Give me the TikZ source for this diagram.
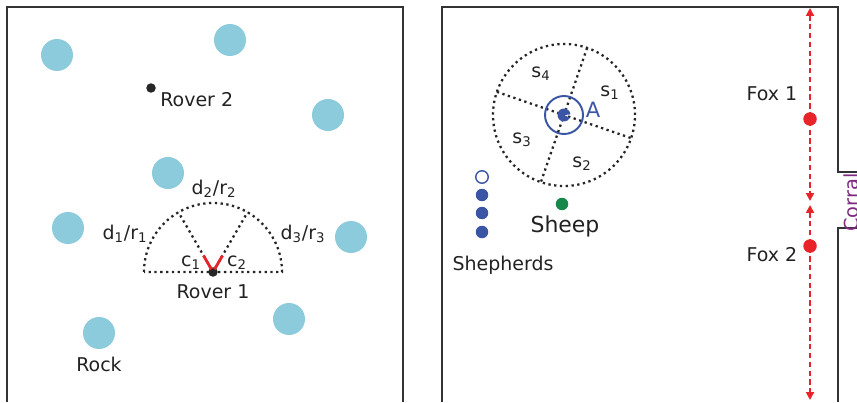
\documentclass[tikz,border=0pt]{standalone}
\usepackage{fontspec}
\setmainfont{DejaVu Sans}
\usepackage{xcolor}
\usetikzlibrary{positioning,calc,arrows.meta}
\definecolor{rockblue}{HTML}{8CCBDC}
\definecolor{foxred}{HTML}{E8232A}
\definecolor{dogblue}{HTML}{3A55A4}
\definecolor{sheepgreen}{HTML}{17884A}
\definecolor{corralpurple}{HTML}{7D2A7F}
\definecolor{inkgray}{HTML}{222222}

\begin{document}
\begin{tikzpicture}[x=0.02cm, y=0.02cm,
    lbl/.style={font=\fontsize{10.8}{13}\selectfont, text=inkgray, inner sep=0pt},
    rock/.style={circle, fill=rockblue, minimum size=0.64cm, inner sep=0pt},
    rover/.style={circle, fill=black!85, minimum size=0.19cm, inner sep=0pt},
    shepherd/.style={circle, fill=dogblue, minimum size=0.25cm, inner sep=0pt},
    fox/.style={circle, fill=foxred, minimum size=0.27cm, inner sep=0pt},
    sensor/.style={dotted, line width=1.3pt, black!85},
    foxpath/.style={densely dashed, line width=1.1pt, foxred, {Triangle[length=4.5pt,width=4.5pt]}-{Triangle[length=4.5pt,width=4.5pt]}},
    wall/.style={line width=0.9pt, black!80}]
    \useasboundingbox (0,0) rectangle (857,-402);
    \draw[wall] (7,-402) |- (403,-7) -- (403,-402);
    \draw[wall] (442,-402) |- (838,-7) -- (838,-172) -- (857,-172);
    \draw[wall] (857,-228) -- (838,-228) -- (838,-402);

    \node[rock] (rock1) at (57,-55) {};
    \node[rock] (rock2) at (230,-40) {};
    \node[rock] (rock3) at (328,-115) {};
    \node[rock] (rock4) at (168,-173) {};
    \node[rock] (rock5) at (68,-228) {};
    \node[rock] (rock6) at (351,-237) {};
    \node[rock] (rock7) at (99,-333) {};
    \node[rock] (rock8) at (289,-319) {};
    \node[lbl, anchor=base] (rocklbl) at (99,-371) {Rock};

    \node[rover] (rover2) at (151,-88) {};
    \node[lbl, anchor=base west] (rover2lbl) at (160,-106) {Rover 2};

    \node[rover] (rover1) at (213,-272) {};
    \coordinate (ray1) at ($(rover1)+(120:69)$);
    \coordinate (ray2) at ($(rover1)+(60:69)$);
    \draw[sensor] ($(rover1)+(-69,0)$) arc (180:0:69) -- cycle;
    \draw[sensor] (rover1) -- (ray1);
    \draw[sensor] (rover1) -- (ray2);
    \draw[foxred, line width=1.6pt] ($(rover1)+(120:3)$) -- ($(rover1)+(120:19)$);
    \draw[foxred, line width=1.6pt] ($(rover1)+(60:3)$) -- ($(rover1)+(60:19)$);
    \node[lbl, anchor=base] (rover1lbl) at (213,-298) {Rover 1};
    \node[lbl, anchor=base] (d1) at (125,-239) {d\textsubscript{1}/r\textsubscript{1}};
    \node[lbl, anchor=base] (d2) at (214,-194) {d\textsubscript{2}/r\textsubscript{2}};
    \node[lbl, anchor=base] (d3) at (303,-239) {d\textsubscript{3}/r\textsubscript{3}};
    \node[lbl, anchor=base] (c1) at (191,-266) {c\textsubscript{1}};
    \node[lbl, anchor=base] (c2) at (237,-266) {c\textsubscript{2}};

    \coordinate (dog) at (564,-115);
    \draw[sensor] (dog) circle (71);
    \draw[sensor] ($(dog)+(71:71)$) -- ($(dog)+(251:71)$);
    \draw[sensor] ($(dog)+(161:71)$) -- ($(dog)+(341:71)$);
    \draw[dogblue, line width=1.1pt] (dog) circle (19);
    \fill[dogblue] (dog) -- ++(5:6.5) arc (5:335:6.5) -- cycle;
    \node[lbl, anchor=base, text=dogblue, font=\fontsize{12}{14}\selectfont] (dogA) at (593,-117) {A};
    \node[lbl, anchor=base] (s1) at (610,-96) {s\textsubscript{1}};
    \node[lbl, anchor=base] (s2) at (582,-167) {s\textsubscript{2}};
    \node[lbl, anchor=base] (s3) at (522,-143) {s\textsubscript{3}};
    \node[lbl, anchor=base] (s4) at (541,-77) {s\textsubscript{4}};

    \node[shepherd, fill=white, draw=dogblue, line width=0.8pt] (shep1) at (482,-177) {};
    \node[shepherd] (shep2) at (482,-195) {};
    \node[shepherd] (shep3) at (482,-213) {};
    \node[shepherd] (shep4) at (482,-232) {};
    \node[lbl, anchor=base] (sheplbl) at (503,-270) {Shepherds};

    \node[circle, fill=sheepgreen, minimum size=0.25cm, inner sep=0pt] (sheep) at (562,-204) {};
    \node[lbl, anchor=base, font=\fontsize{12.5}{15}\selectfont] (sheeplbl) at (565,-232) {Sheep};

    \coordinate (f1top) at (810,-8);
    \coordinate (f1bot) at (810,-201);
    \coordinate (f2top) at (810,-205);
    \coordinate (f2bot) at (810,-400);
    \draw[foxpath] (f1top) -- (f1bot);
    \draw[foxpath] (f2top) -- (f2bot);
    \node[fox] (fox1) at (810,-119) {};
    \node[fox] (fox2) at (810,-246) {};
    \node[lbl, anchor=base] (fox1lbl) at (772,-100) {Fox 1};
    \node[lbl, anchor=base] (fox2lbl) at (772,-261) {Fox 2};

    \node[lbl, anchor=base west, rotate=90, text=corralpurple, font=\fontsize{11}{13}\selectfont] (corral) at (858,-232) {Corral};
\end{tikzpicture}
\end{document}
